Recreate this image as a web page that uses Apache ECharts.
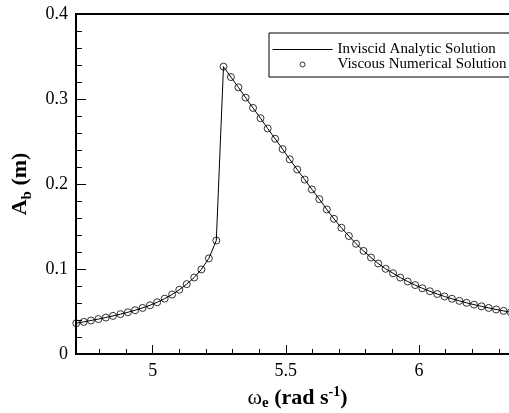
<!DOCTYPE html>
<html>
<head>
<meta charset="utf-8">
<script src="https://cdn.jsdelivr.net/npm/echarts@6/dist/echarts.min.js"></script>
<style>
  html, body { margin: 0; padding: 0; background: #fff; }
  #chart { width: 509px; height: 413px; }
</style>
</head>
<body>
<div id="chart"></div>
<script>
// excitation frequency (rad/s)
const omega = [
  4.713, 4.741, 4.768, 4.796, 4.824, 4.851, 4.879, 4.907, 4.934, 4.962,
  4.990, 5.017, 5.045, 5.073, 5.100, 5.128, 5.156, 5.183, 5.211, 5.239,
  5.266, 5.294, 5.322, 5.349, 5.377, 5.405, 5.432, 5.460, 5.488, 5.515,
  5.543, 5.571, 5.598, 5.626, 5.654, 5.681, 5.709, 5.737, 5.764, 5.792,
  5.820, 5.847, 5.875, 5.903, 5.930, 5.958, 5.986, 6.013, 6.041, 6.069,
  6.096, 6.124, 6.152, 6.179, 6.207, 6.235, 6.262, 6.290, 6.318, 6.345
]
// inviscid analytic amplitude (m)
const inviscidA = [
  0.0362, 0.0378, 0.0394, 0.0411, 0.0429, 0.0448, 0.0469, 0.0491, 0.0515, 0.0542,
  0.0573, 0.0609, 0.0651, 0.0700, 0.0756, 0.0822, 0.0900, 0.0995, 0.1125, 0.1335,
  0.3380, 0.3258, 0.3137, 0.3016, 0.2895, 0.2774, 0.2653, 0.2532, 0.2411, 0.2290,
  0.2170, 0.2052, 0.1936, 0.1822, 0.1700, 0.1590, 0.1485, 0.1388, 0.1297, 0.1213,
  0.1135, 0.1065, 0.1002, 0.0950, 0.0899, 0.0853, 0.0811, 0.0773, 0.0738, 0.0706,
  0.0677, 0.0650, 0.0625, 0.0602, 0.0581, 0.0561, 0.0542, 0.0524, 0.0507, 0.0491
]
// viscous numerical amplitude (m)
const viscousA = [
  0.0362, 0.0378, 0.0394, 0.0411, 0.0429, 0.0448, 0.0469, 0.0491, 0.0515, 0.0542,
  0.0573, 0.0609, 0.0651, 0.0700, 0.0756, 0.0822, 0.0900, 0.0995, 0.1125, 0.1335,
  0.3380, 0.3258, 0.3137, 0.3016, 0.2895, 0.2774, 0.2653, 0.2532, 0.2411, 0.2290,
  0.2170, 0.2052, 0.1936, 0.1822, 0.1700, 0.1590, 0.1485, 0.1388, 0.1297, 0.1213,
  0.1135, 0.1065, 0.1002, 0.0950, 0.0899, 0.0853, 0.0811, 0.0773, 0.0738, 0.0706,
  0.0677, 0.0650, 0.0625, 0.0602, 0.0581, 0.0561, 0.0542, 0.0524, 0.0507, 0.0491
]
const xMajorTicks = [5, 5.5, 6]
const xMinorTicks = [4.8, 4.9, 5.1, 5.2, 5.3, 5.4, 5.6, 5.7, 5.8, 5.9, 6.1, 6.2, 6.3]
const seriesNames = ['Inviscid Analytic Solution', 'Viscous Numerical Solution']

const FONT = 'Liberation Serif'
const xMin = 4.712
const xMax = 6.376

const chart = echarts.init(document.getElementById('chart'), null, { renderer: 'canvas' })

const option = {
  backgroundColor: '#fff',
  animation: false,
  textStyle: { fontFamily: FONT, color: '#000' },
  // plot box runs past the right edge of the picture, as in the original
  grid: {
    left: 76, top: 14, width: 443, bottom: 59,
    show: true, borderColor: '#000', borderWidth: 2,
    containLabel: false,
    outerBoundsMode: 'none'
  },
  legend: {
    left: 269, top: 33,
    orient: 'vertical',
    itemWidth: 60, itemHeight: 5, itemGap: 0,
    padding: [9, 3, 5, 3],
    borderColor: '#000', borderWidth: 1,
    backgroundColor: '#fff',
    textStyle: { fontFamily: FONT, fontSize: 15, lineHeight: 14, color: '#000' },
    data: [
      {
        name: seriesNames[0],
        lineStyle: { color: '#000', width: 1 },
        itemStyle: { color: 'rgba(0,0,0,0)', borderWidth: 0 }
      },
      {
        name: seriesNames[1], icon: 'circle',
        itemStyle: { color: 'rgba(0,0,0,0)', borderColor: '#000', borderWidth: 1 }
      }
    ]
  },
  xAxis: [
    {
      type: 'value', min: xMin, max: xMax,
      name: '{w|ω}{sub|e}{a| (rad s}{sup|-1}{a|)}',
      nameLocation: 'middle', nameGap: 30,
      nameTextStyle: {
        rich: {
          w: { fontFamily: FONT, fontSize: 22, lineHeight: 26, color: '#000' },
          a: { fontFamily: FONT, fontSize: 22, fontWeight: 'bold', lineHeight: 26, color: '#000' },
          sub: { fontFamily: FONT, fontSize: 15, fontWeight: 'bold', lineHeight: 26, verticalAlign: 'bottom', color: '#000' },
          sup: { fontFamily: FONT, fontSize: 14, fontWeight: 'bold', lineHeight: 26, verticalAlign: 'top', color: '#000' }
        }
      },
      axisLine: { show: true, lineStyle: { color: '#000', width: 2 } },
      axisTick: { show: true, inside: true, length: 9, customValues: xMajorTicks, lineStyle: { color: '#000', width: 1 } },
      axisLabel: { customValues: xMajorTicks, fontFamily: FONT, fontSize: 18, color: '#000', margin: 8 },
      splitLine: { show: false }
    },
    {
      type: 'value', min: xMin, max: xMax, position: 'bottom',
      axisLine: { show: false },
      axisTick: { show: true, inside: true, length: 5, customValues: xMinorTicks, lineStyle: { color: '#000', width: 1 } },
      axisLabel: { show: false },
      splitLine: { show: false }
    }
  ],
  yAxis: {
    type: 'value', min: 0, max: 0.4, interval: 0.1,
    name: '{a|A}{sub|b}{a| (m)}',
    nameLocation: 'middle', nameRotate: 90, nameGap: 40,
    nameTextStyle: {
      rich: {
        a: { fontFamily: FONT, fontSize: 22, fontWeight: 'bold', lineHeight: 28, color: '#000' },
        sub: { fontFamily: FONT, fontSize: 15, fontWeight: 'bold', lineHeight: 28, verticalAlign: 'bottom', color: '#000' }
      }
    },
    axisLine: { show: true, lineStyle: { color: '#000', width: 2 } },
    axisTick: { show: true, inside: true, length: 10, lineStyle: { color: '#000', width: 1 } },
    minorTick: { show: true, splitNumber: 5, length: 6, lineStyle: { color: '#000', width: 1 } },
    axisLabel: { fontFamily: FONT, fontSize: 18, color: '#000', margin: 8 },
    splitLine: { show: false }
  },
  series: [
    {
      name: seriesNames[0],
      type: 'line',
      symbol: 'none',
      lineStyle: { color: '#000', width: 1 },
      itemStyle: { color: '#000' },
      data: omega.map((w, i) => [w, inviscidA[i]])
    },
    {
      name: seriesNames[1],
      type: 'scatter',
      symbol: 'circle',
      symbolSize: 7,
      itemStyle: { color: 'rgba(0,0,0,0)', borderColor: '#000', borderWidth: 1 },
      data: omega.map((w, i) => [w, viscousA[i]])
    }
  ]
}

chart.setOption(option)
</script>
</body>
</html>
